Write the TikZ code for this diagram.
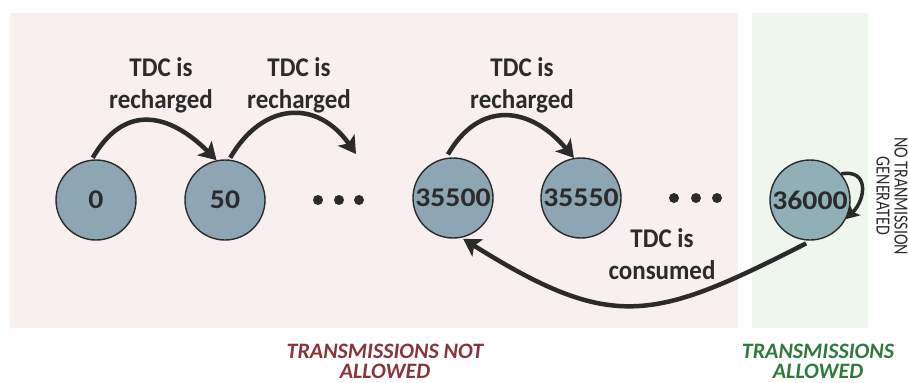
\documentclass[tikz,border=0pt]{standalone}
\usepackage{fontspec}
\setmainfont{Carlito}
\usetikzlibrary{arrows.meta}
\definecolor{pinkbg}{HTML}{F8EFEF}
\definecolor{greenbg}{HTML}{EEF6EE}
\definecolor{statefill}{HTML}{8EA5B4}
\definecolor{statefillg}{HTML}{8FB0B6}
\definecolor{ink}{HTML}{2B2B2B}
\definecolor{redlab}{HTML}{8B3338}
\definecolor{greenlab}{HTML}{2E7A3C}
\newcommand{\wxtext}[1]{\scalebox{1.0}[1.08]{#1}}
\newcommand{\wdigits}[1]{\scalebox{1.1}[1]{#1}}
\newcommand{\narrowtext}[1]{\scalebox{0.8}[1]{#1}}
\tikzset{
  state/.style={circle, draw=ink, line width=1.4pt, fill=statefill, minimum size=80pt, inner sep=0pt, text=ink, font=\bfseries\fontsize{27}{30}\selectfont},
  dotnode/.style={circle, fill=ink, minimum size=10pt, inner sep=0pt},
  lab/.style={align=center, text=ink, font=\bfseries\fontsize{25}{32}\selectfont},
  zonelab/.style={align=center, font=\bfseries\itshape\fontsize{22}{20}\selectfont},
  arr/.style={draw=ink, line width=4.5pt, -{Stealth[length=17pt,width=20pt,inset=4pt]}},
}
\begin{document}
\begin{tikzpicture}[x=1pt,y=-1pt]
\useasboundingbox (0,0) rectangle (908,383);
\fill[pinkbg] (10,13) rectangle (738,328);
\fill[greenbg] (752,13) rectangle (868,328);

\node[state] (c0) at (96,200) {\wdigits{0}};
\node[state] (c50) at (225,200) {\wdigits{50}};
\node[dotnode] (d1) at (318,200) {};
\node[dotnode] (d2) at (339,200) {};
\node[dotnode] (d3) at (359,200) {};
\node[state] (c35500) at (453,198) {\wdigits{35500}};
\node[state] (c35550) at (581,198) {\wdigits{35550}};
\node[dotnode] (d4) at (674,198) {};
\node[dotnode] (d5) at (696,198) {};
\node[dotnode] (d6) at (717,198) {};
\node[state, fill=statefillg] (c36000) at (810,200) {\wdigits{36000}};

\coordinate (e2) at (356,154);

\node[lab] (l1) at (161,85) {\wxtext{TDC is}\\\wxtext{recharged}};
\node[lab] (l2) at (299,85) {\wxtext{TDC is}\\\wxtext{recharged}};
\node[lab] (l3) at (522,85) {\wxtext{TDC is}\\\wxtext{recharged}};
\node[lab] (l4) at (662,254) {\wxtext{TDC is}\\\wxtext{consumed}};

\draw[arr, shorten <=2pt] (c0.96) to[out=60, in=135, looseness=1.35] (c50.102);
\draw[arr, shorten <=2pt] (c50.84) to[out=60, in=125, looseness=1.35] (e2);
\draw[arr, shorten <=4pt] (c35500.100) to[out=60, in=130, looseness=1.35] (c35550.100);
\draw[arr, shorten <=6pt, shorten >=2pt] (c36000.-88) to[out=-153, in=-32, looseness=1.3] (c35500.-78);
\draw[draw=ink, line width=3.5pt, -{Stealth[length=13pt,width=15pt,inset=3pt]}] (c36000.40) to[out=10, in=45, looseness=1.6] (c36000.-28);

\node[rotate=-90, align=center, text=ink, font=\fontsize{20}{18}\selectfont] (nt) at (892,196) {\narrowtext{NO TRANMISSION}\\\narrowtext{GENERATED}};

\node[zonelab, text=redlab] (z1) at (385,361) {TRANSMISSIONS NOT\\ALLOWED};
\node[zonelab, text=greenlab] (z2) at (818,361) {TRANSMISSIONS\\ALLOWED};
\end{tikzpicture}
\end{document}
